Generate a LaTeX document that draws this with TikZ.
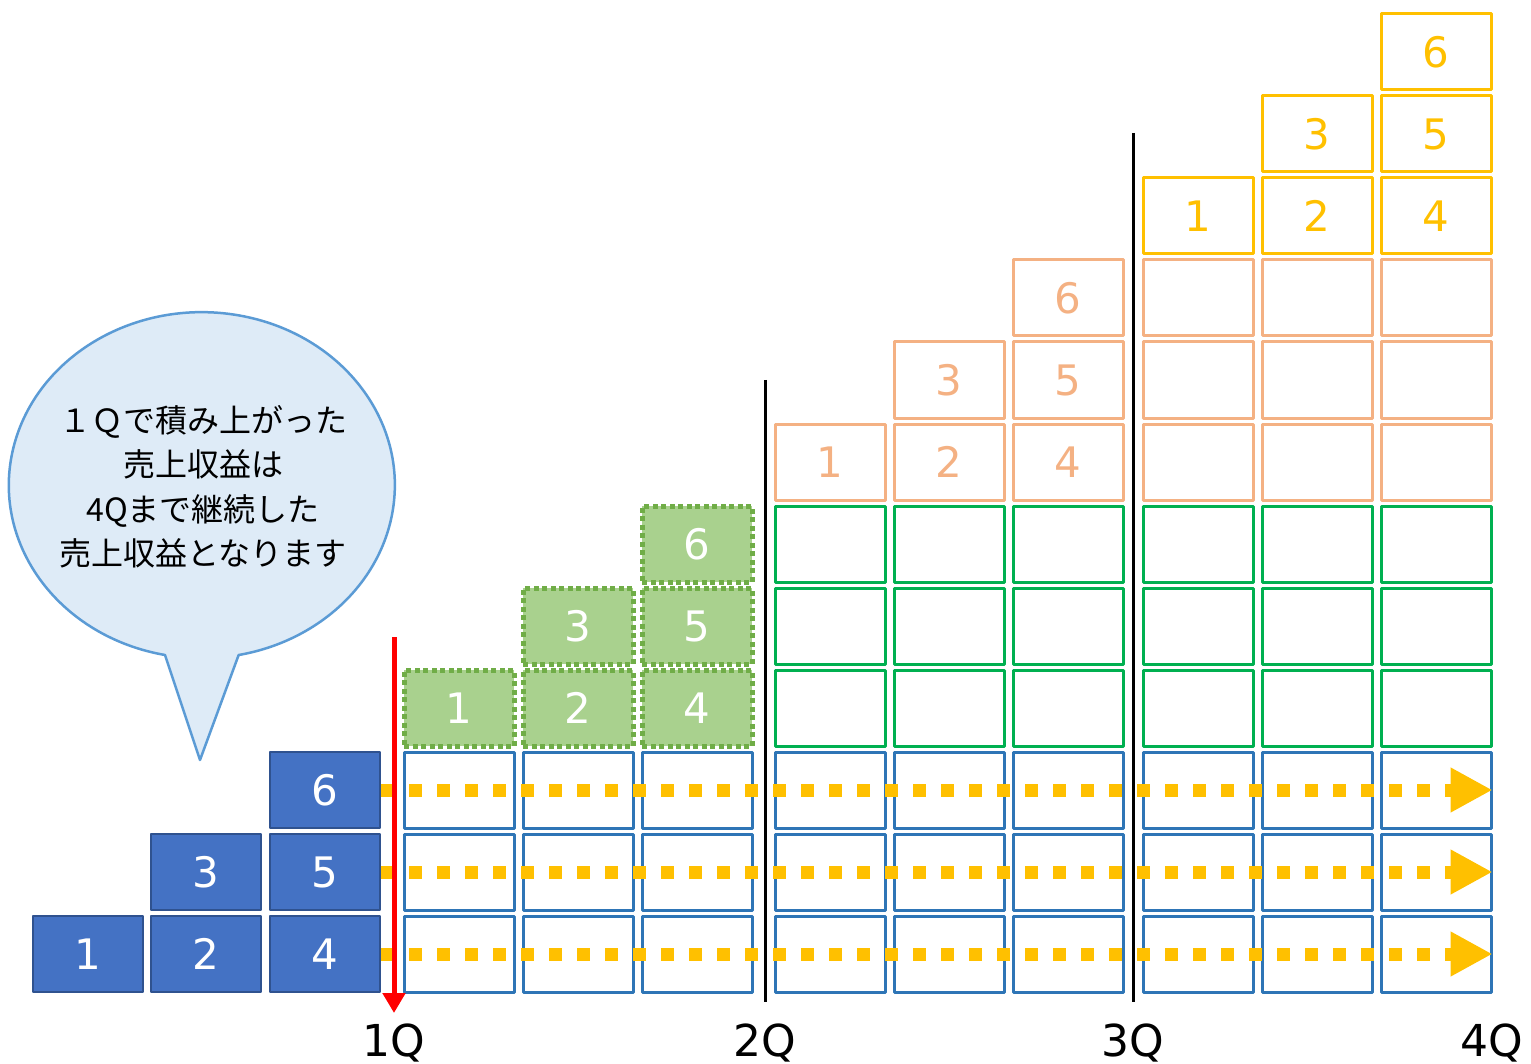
\documentclass[tikz,border=0pt]{standalone}
\usepackage{fontspec}
\setmainfont{DejaVu Sans}
\newfontfamily\jpfont{Noto Sans CJK JP}
\usetikzlibrary{arrows.meta}
\definecolor{blueF}{HTML}{4472C4}
\definecolor{blueD}{HTML}{2F528F}
\definecolor{blueO}{HTML}{2E75B6}
\definecolor{greenF}{HTML}{A9D18E}
\definecolor{greenD}{HTML}{70AD47}
\definecolor{greenO}{HTML}{00B050}
\definecolor{salmon}{HTML}{F4B183}
\definecolor{gold}{HTML}{FFC000}
\definecolor{noteF}{HTML}{DEEBF7}
\definecolor{noteD}{HTML}{5B9BD5}
\begin{document}
\begin{tikzpicture}[x=1pt,y=-1pt,line join=round,
	cell/.style={minimum width=110pt,minimum height=76pt,inner sep=0pt,font=\fontsize{42}{42}\selectfont},
	bluefill/.style={cell,fill=blueF,draw=blueD,line width=2pt,text=white},
	greenfill/.style={cell,fill=greenF,draw=greenD,line width=5pt,dash pattern=on 5pt off 3.5pt,text=white},
	cellbox/.style={cell,draw=#1,line width=3pt,text=#1},
	flow/.style={gold,line width=13pt,dash pattern=on 13pt off 15pt,-{Triangle[length=42pt,width=42pt]}},
	qline/.style={black,line width=3pt},
	qlabel/.style={anchor=base,font=\fontsize{44}{44}\selectfont}]
	\useasboundingbox (0,0) rectangle (1531,1064);
	% revenue cells of every quarter
	\foreach \x [count=\i] in {459,578,697,830,949,1068,1198,1317,1436}
		\foreach \r in {1,2,3}
			\node[cellbox=blueO] (o-\i-\r) at (\x,{1036-82*\r}) {};
	\foreach \x [count=\i from 4] in {830,949,1068,1198,1317,1436}
		\foreach \r in {4,5,6}
			\node[cellbox=greenO] (g-\i-\r) at (\x,{1036-82*\r}) {};
	\foreach \x [count=\i from 7] in {1198,1317,1436}
		\foreach \r in {7,8,9}
			\node[cellbox=salmon] (s-\i-\r) at (\x,{1036-82*\r}) {};
	% contracts won in each quarter
	\foreach \x/\r/\n in {88/1/1,206/1/2,206/2/3,325/1/4,325/2/5,325/3/6}
		\node[bluefill] (p\n) at (\x,{1036-82*\r}) {\n};
	\foreach \x/\r/\n in {459/4/1,578/4/2,578/5/3,697/4/4,697/5/5,697/6/6}
		\node[greenfill] (q\n) at (\x,{1036-82*\r}) {\n};
	\foreach \x/\r/\n in {830/7/1,949/7/2,949/8/3,1068/7/4,1068/8/5,1068/9/6}
		\node[cellbox=salmon] (r\n) at (\x,{1036-82*\r}) {\n};
	\foreach \x/\r/\n in {1198/10/1,1317/10/2,1317/11/3,1436/10/4,1436/11/5,1436/12/6}
		\node[cellbox=gold] (t\n) at (\x,{1036-82*\r}) {\n};
	% quarter boundaries
	\coordinate (b2top) at (765,380);  \coordinate (b2) at (765,1002);
	\coordinate (b3top) at (1133,133); \coordinate (b3) at (1133,1002);
	\draw[qline] (b2top)--(b2);
	\draw[qline] (b3top)--(b3);
	\foreach \a/\b in {p4/o-9-1,p5/o-9-2,p6/o-9-3}
		\draw[flow] (\a.east)--(\b.east);
	\coordinate (b1top) at (394,637); \coordinate (b1) at (394,1013);
	\draw[red,line width=5pt,-{Triangle[length=20pt,width=22pt]}] (b1top)--(b1);
	\node[qlabel] (l1) at (394,1056) {1Q};
	\node[qlabel] (l2) at (765,1056) {2Q};
	\node[qlabel] (l3) at (1133,1056) {3Q};
	\node[qlabel] (l4) at (1492,1056) {4Q};
	% speech bubble
	\draw[noteD,fill=noteF,line width=2.5pt] (200,760)--(165,655)
		arc[start angle=101,end angle=439,x radius=193,y radius=173]--cycle;
	\node[align=center,font=\jpfont\fontsize{32}{44.5}\selectfont] (note) at (203,487)
		{１Ｑで積み上がった\\売上収益は\\4Qまで継続した\\売上収益となります};
\end{tikzpicture}
\end{document}
